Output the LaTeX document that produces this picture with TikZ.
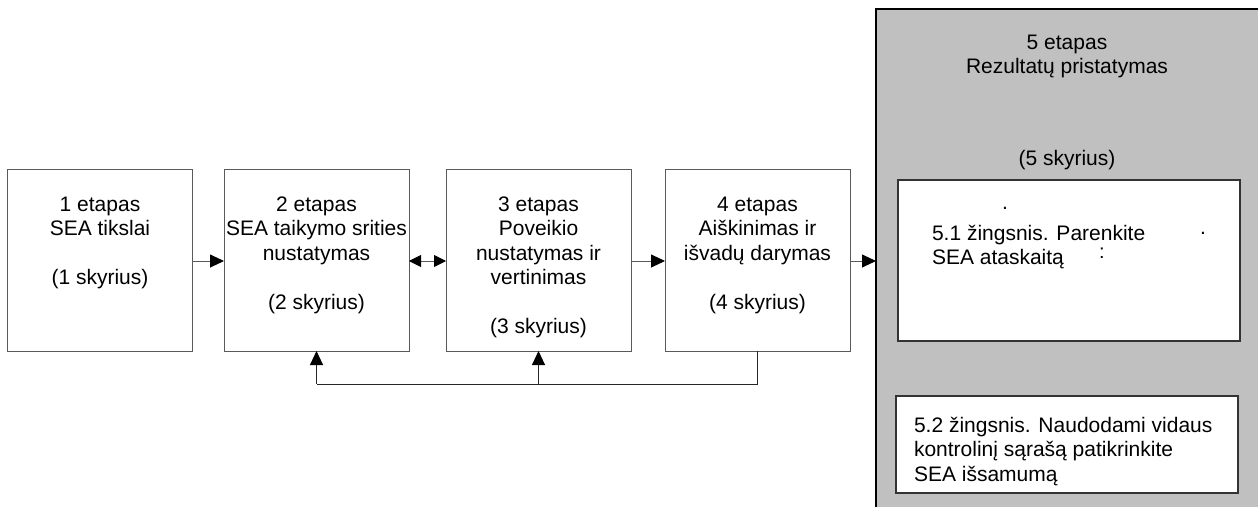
\documentclass[tikz,border=0pt]{standalone}
\usepackage{fontspec}
\setmainfont{Liberation Sans}
\usetikzlibrary{arrows.meta}
\definecolor{linegray}{HTML}{5A5A5A}
\definecolor{panelgray}{HTML}{C0C0C0}
\begin{document}
\begin{tikzpicture}[x=1pt,y=-1pt,
  every node/.style={inner sep=0pt, outer sep=0pt},
  txt/.style={font=\fontsize{21}{24.5}\selectfont, align=center},
  ltxt/.style={font=\fontsize{21}{24.5}\selectfont, align=left},
  stagebox/.style={draw=linegray, line width=0.9pt, fill=white, minimum width=185pt, minimum height=182pt, anchor=north west},
  stepbox/.style={draw=black!80, line width=1.3pt, fill=white, anchor=north west},
  flow/.style={draw=linegray, line width=0.9pt, -{Triangle[length=14pt,width=13pt,color=black]}},
  both/.style={draw=linegray, line width=0.9pt, {Triangle[length=12pt,width=12pt,color=black]}-{Triangle[length=12pt,width=12pt,color=black]}},
  fb/.style={draw=black!85, line width=0.9pt},
]
\useasboundingbox (0,0) rectangle (1258,506);
\clip (0,0) rectangle (1258,506);

% stage boxes 1-4 (labels are placed by the baseline of their last line)
\node[stagebox] (s1) at (7,169) {};
\node[stagebox] (s2) at (224,169) {};
\node[stagebox] (s3) at (446,169) {};
\node[stagebox] (s4) at (665,169) {};

\node[txt, anchor=base] (t1) at (100,284.5) {1 etapas\\SEA tikslai\\[24.5pt](1 skyrius)};
\node[txt, anchor=base] (t2) at (316.5,309) {2 etapas\\SEA taikymo srities\\nustatymas\\[24.5pt](2 skyrius)};
\node[txt, anchor=base] (t3) at (538.5,333.5) {3 etapas\\Poveikio\\nustatymas ir\\vertinimas\\[24.5pt](3 skyrius)};
\node[txt, anchor=base] (t4) at (757.5,309) {4 etapas\\Aiškinimas ir\\išvadų darymas\\[24.5pt](4 skyrius)};

% stage 5 panel
\node[draw=black, line width=1.3pt, fill=panelgray, minimum width=390pt, minimum height=505pt, anchor=north west] (s5) at (876,9) {};
\node[txt, anchor=base] (t5a) at (1067,73.5) {5 etapas\\Rezultatų pristatymas};
\node[txt, anchor=base] (t5b) at (1067,165) {(5 skyrius)};

\node[stepbox, minimum width=342pt, minimum height=161pt] (p1) at (898,180) {};
\node[ltxt, anchor=base west] (tp1) at (932,264.5) {5.1 žingsnis. Parenkite\\SEA ataskaitą};
\node[font=\fontsize{21}{24}\selectfont] (d1) at (1005,208) {.};
\node[font=\fontsize{21}{24}\selectfont] (d2) at (1203,233) {.};
\node[font=\fontsize{20}{24}\selectfont] (d3) at (1102,253) {:};

\node[stepbox, minimum width=342pt, minimum height=97pt] (p2) at (896,396) {};
\node[ltxt, anchor=base west] (tp2) at (914,481) {5.2 žingsnis. Naudodami vidaus\\kontrolinį sąrašą patikrinkite\\SEA išsamumą};

% forward flow
\draw[flow] (s1.east |- 0,261) -- (s2.west |- 0,261);
\draw[both] (s2.east |- 0,261) -- (s3.west |- 0,261);
\draw[flow] (s3.east |- 0,261) -- (s4.west |- 0,261);
\draw[flow] (s4.east |- 0,261) -- (s5.west |- 0,261);

% feedback loop
\draw[fb] (s4.south) -- (s4.south |- 0,384) -- (s2.south |- 0,384);
\draw[fb, -{Triangle[length=14pt,width=13pt,color=black]}] (s2.south |- 0,384) -- (s2.south);
\draw[fb, -{Triangle[length=14pt,width=13pt,color=black]}] (s3.south |- 0,384) -- (s3.south);
\end{tikzpicture}
\end{document}
